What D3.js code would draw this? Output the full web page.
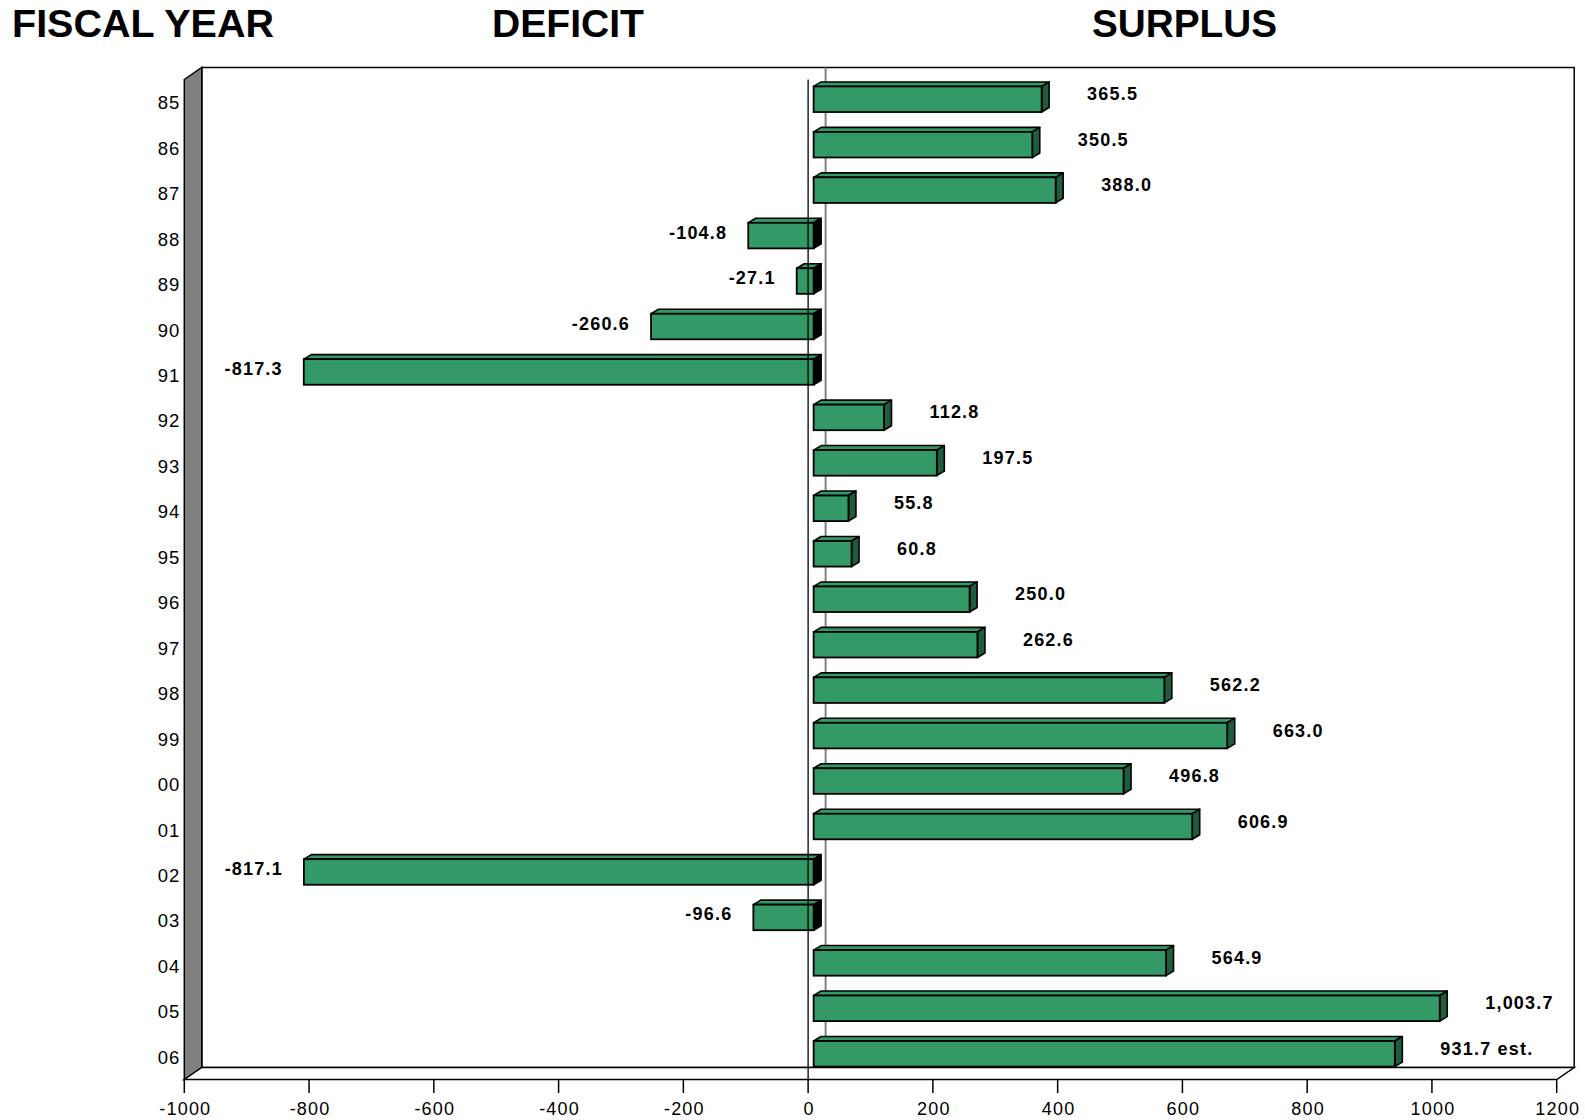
<!DOCTYPE html>
<html>
<head>
<meta charset="utf-8">
<script src="https://cdn.jsdelivr.net/npm/d3@7"></script>
<style>
  html, body { margin: 0; padding: 0; background: #fff; }
  svg { display: block; }
  text { font-family: "Liberation Sans", Arial, sans-serif; fill: #000; }
</style>
</head>
<body>
<svg id="chart" width="1585" height="1120"></svg>
<script>
// ---- data ----
const years = ["85","86","87","88","89","90","91","92","93","94","95","96","97","98","99","00","01","02","03","04","05","06"];
const balances = [365.5, 350.5, 388.0, -104.8, -27.1, -260.6, -817.3, 112.8, 197.5, 55.8, 60.8, 250.0, 262.6, 562.2, 663.0, 496.8, 606.9, -817.1, -96.6, 564.9, 1003.7, 931.7];
const estimatedYears = ["06"];
const xTicks = [-1000, -800, -600, -400, -200, 0, 200, 400, 600, 800, 1000, 1200];
const headings = ["FISCAL YEAR", "DEFICIT", "SURPLUS"];

// ---- layout ----
const svg = d3.select("#chart");
const x = d3.scaleLinear().domain([-1000, 1200]).range([184.3, 1556.7]);
const y = d3.scaleBand().domain(years).range([79.5, 1079.5]);
const top0 = 79.5, bottom0 = 1079.5;
const DX = 17.5, DY = -12;        // wall depth
const BX = 5.5, BY = -3.0;        // bar plane offset
const bdx = 7.5, bdy = -4.5;      // bar depth
const bh = 25.6;                  // bar thickness
const green = "#339966", greenDark = "#1f5b3d";
const locale = d3.formatLocale({ decimal: ".", thousands: ",", grouping: [3], currency: ["$", ""], minus: "-" });
const fmt = locale.format(",.1f");
const tickFmt = locale.format("d");

// headings
const headX = [12, 492, 1092];
const headW = [262, 152, 185];
svg.selectAll("text.head").data(headings).join("text")
  .attr("class", "head")
  .attr("x", (d, i) => headX[i]).attr("y", 37)
  .attr("font-size", 39.5).attr("font-weight", "bold")
  .attr("textLength", (d, i) => headW[i]).attr("lengthAdjust", "spacingAndGlyphs")
  .text(d => d);

const x0 = x.range()[0], x1 = x.range()[1];
const poly = pts => "M" + pts.map(p => p.join(",")).join("L") + "Z";

// back wall
svg.append("rect")
  .attr("x", x0 + DX).attr("y", top0 + DY)
  .attr("width", x1 - x0).attr("height", bottom0 - top0)
  .attr("fill", "#fff").attr("stroke", "#000").attr("stroke-width", 1.5);

// back zero gridline
svg.append("line")
  .attr("x1", x(0) + DX).attr("x2", x(0) + DX)
  .attr("y1", top0 + DY).attr("y2", bottom0 + DY)
  .attr("stroke", "#808080").attr("stroke-width", 2);

// side wall
svg.append("path")
  .attr("d", poly([[x0, top0], [x0 + DX, top0 + DY], [x0 + DX, bottom0 + DY], [x0, bottom0]]))
  .attr("fill", "#808080").attr("stroke", "#000").attr("stroke-width", 1.5);

// floor
svg.append("path")
  .attr("d", poly([[x0, bottom0], [x0 + DX, bottom0 + DY], [x1 + DX, bottom0 + DY], [x1, bottom0]]))
  .attr("fill", "#fff").attr("stroke", "#000").attr("stroke-width", 1.5);

// bars
const rows = years.map((yr, i) => ({ yr, v: balances[i] }));
const cy = d => y(d.yr) + y.bandwidth() / 2 + BY;
const bars = svg.append("g").selectAll("g").data(rows).join("g");
bars.each(function(d) {
  const g = d3.select(this);
  const xa = x(Math.min(0, d.v)) + BX, xb = x(Math.max(0, d.v)) + BX;
  const yt = cy(d) - bh / 2, yb = cy(d) + bh / 2;
  g.append("path")
    .attr("d", poly([[xa, yt], [xa + bdx, yt + bdy], [xb + bdx, yt + bdy], [xb, yt]]))
    .attr("fill", green).attr("stroke", "#000").attr("stroke-width", 1.6).attr("stroke-linejoin", "round");
  g.append("path")
    .attr("d", poly([[xb, yt], [xb + bdx, yt + bdy], [xb + bdx, yb + bdy], [xb, yb]]))
    .attr("fill", d.v < 0 ? "#000" : greenDark).attr("stroke", "#000").attr("stroke-width", 1.6).attr("stroke-linejoin", "round");
  g.append("rect")
    .attr("x", xa).attr("y", yt).attr("width", xb - xa).attr("height", bh)
    .attr("fill", green).attr("stroke", "#000").attr("stroke-width", 1.8);
});

// front zero line
svg.append("line")
  .attr("x1", x(0)).attr("x2", x(0))
  .attr("y1", top0).attr("y2", bottom0)
  .attr("stroke", "#000").attr("stroke-width", 1.3);

// x axis ticks
svg.append("g").selectAll("line").data(xTicks).join("line")
  .attr("x1", d => x(d)).attr("x2", d => x(d))
  .attr("y1", bottom0).attr("y2", bottom0 + 13.5)
  .attr("stroke", "#000").attr("stroke-width", 1.5);
svg.append("g").selectAll("text").data(xTicks).join("text")
  .attr("x", d => x(d) + 1).attr("y", 1115)
  .attr("text-anchor", "middle").attr("font-size", 18).attr("letter-spacing", 1.2)
  .text(d => tickFmt(d));

// category labels
svg.append("g").selectAll("text").data(years).join("text")
  .attr("x", 180).attr("y", d => y(d) + y.bandwidth() / 2 + 7)
  .attr("text-anchor", "end").attr("font-size", 18.5).attr("letter-spacing", 0.8)
  .text(d => d);

// value labels
svg.append("g").selectAll("text").data(rows).join("text")
  .attr("x", d => d.v >= 0 ? x(d.v) + BX + bdx + 38 : x(d.v) + BX - 21)
  .attr("y", d => cy(d) + (d.v >= 0 ? 1 : 3))
  .attr("text-anchor", d => d.v >= 0 ? "start" : "end")
  .attr("font-size", 18).attr("font-weight", "bold").attr("letter-spacing", 1.2)
  .text(d => fmt(d.v) + (estimatedYears.includes(d.yr) ? " est." : ""));
</script>
</body>
</html>
